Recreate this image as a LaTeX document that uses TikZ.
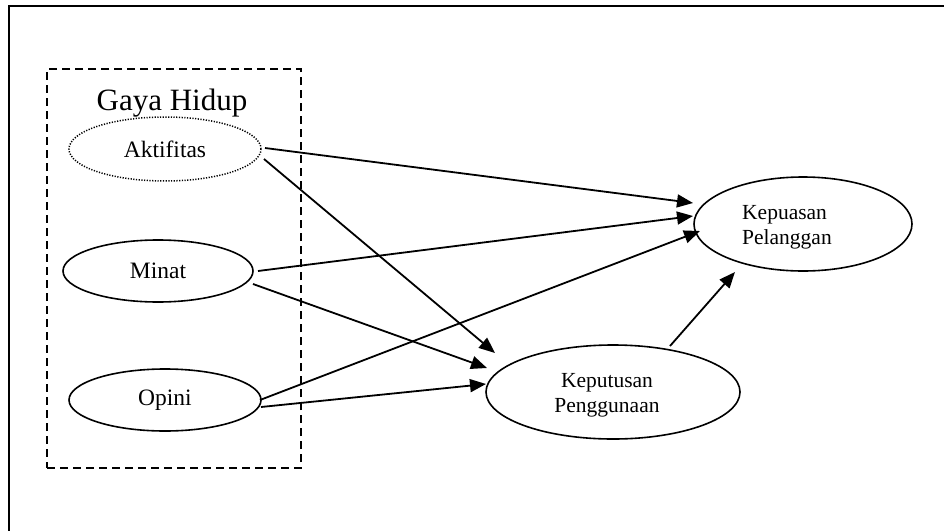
\documentclass[tikz,border=0pt]{standalone}
\usepackage{fontspec}
\setmainfont{Liberation Serif}
\usetikzlibrary{arrows.meta,shapes.geometric}
\begin{document}
\begin{tikzpicture}[x=1pt,y=-1pt,
  ell/.style={draw, ellipse, line width=1.6pt, inner sep=0pt, font=\fontsize{23.5}{28}\selectfont},
  lbl/.style={inner sep=0pt, align=center, font=\fontsize{21.5}{25}\selectfont},
  arr/.style={line width=1.8pt, -{Triangle[length=16pt,width=13pt]}},
]
\useasboundingbox (0,0) rectangle (944,530);
\draw[line width=2.2pt] (9,531) -- (9,6) -- (945,6);
% dashed group box
\node[draw, dash pattern=on 8pt off 5pt, line width=1.7pt, minimum width=254pt, minimum height=399pt, inner sep=0pt] (box) at (174,268.5) {};
\node[inner sep=0pt, anchor=base, font=\fontsize{31}{36}\selectfont] (gh) at (172,110) {Gaya Hidup};
% ellipses
\node[ell, line width=1.5pt, dash pattern=on 1.2pt off 1.5pt, minimum width=192pt, minimum height=64pt] (akt) at (165,149) {Aktifitas};
\node[ell, minimum width=190pt, minimum height=62pt] (min) at (158,271) {Minat};
\node[ell, minimum width=192pt, minimum height=62pt] (opi) at (165,400) {Opini};
\node[ell, minimum width=218pt, minimum height=94pt] (kep) at (803,224) {};
\node[lbl, align=left, anchor=west] (kepl) at (742,227) {Kepuasan\\Pelanggan};
\node[ell, minimum width=254pt, minimum height=94pt] (kpt) at (613,392) {};
\node[lbl] (kptl) at (607,395) {Keputusan\\Penggunaan};
% arrows
\draw[arr] ([shift={(100,-1)}]akt.center) -- ([shift={(-110,-21)}]kep.center);
\draw[arr] ([shift={(99,10)}]akt.center) -- ([shift={(-118,-39)}]kpt.center);
\draw[arr] ([shift={(100,0)}]min.center) -- ([shift={(-110,-8)}]kep.center);
\draw[arr] ([shift={(95,13)}]min.center) -- ([shift={(-126,-24)}]kpt.center);
\draw[arr] ([shift={(95,0)}]opi.center) -- ([shift={(-103,7)}]kep.center);
\draw[arr] ([shift={(96,7)}]opi.center) -- ([shift={(-127,-8)}]kpt.center);
\draw[arr] ([shift={(57,-46)}]kpt.center) -- ([shift={(-68,48)}]kep.center);
\end{tikzpicture}
\end{document}
